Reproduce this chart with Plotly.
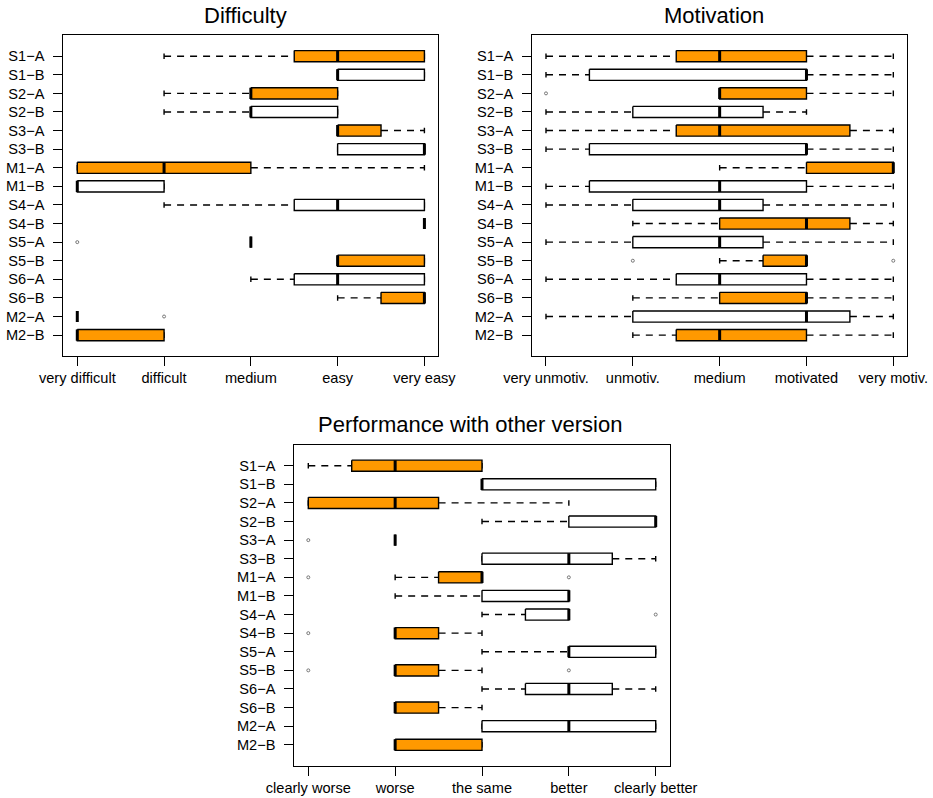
import plotly.graph_objects as go

W, H = 933, 798

rows = ["S1−A", "S1−B", "S2−A", "S2−B", "S3−A", "S3−B", "M1−A", "M1−B",
        "S4−A", "S4−B", "S5−A", "S5−B", "S6−A", "S6−B", "M2−A", "M2−B"]
orange_rows = ["S1−A", "S2−A", "S3−A", "M1−A", "S4−B", "S5−B", "S6−B", "M2−B"]

# ---- Difficulty ----
diff_labels = ["very difficult", "difficult", "medium", "easy", "very easy"]
diff_lw = [2, 4, 2, 2, 4, 4, 1, 1, 2, 5, 3, 4, 3, 4, 1, 1]
diff_q1 = [3.5, 4, 3, 3, 4, 4, 1, 1, 3.5, 5, 3, 4, 3.5, 4.5, 1, 1]
diff_med = [4, 4, 3, 3, 4, 5, 2, 1, 4, 5, 3, 4, 4, 5, 1, 1]
diff_q3 = [5, 5, 4, 4, 4.5, 5, 3, 2, 5, 5, 3, 5, 5, 5, 1, 2]
diff_uw = [5, 5, 4, 4, 5, 5, 5, 2, 5, 5, 3, 5, 5, 5, 1, 2]
diff_out = [[], [], [], [], [], [], [], [], [], [], [1], [], [], [], [2], []]

# ---- Motivation ----
mot_labels = ["very unmotiv.", "unmotiv.", "medium", "motivated", "very motiv."]
mot_lw = [1, 1, 3, 1, 1, 1, 3, 1, 1, 2, 1, 3, 1, 2, 1, 2]
mot_q1 = [2.5, 1.5, 3, 2, 2.5, 1.5, 4, 1.5, 2, 3, 2, 3.5, 2.5, 3, 2, 2.5]
mot_med = [3, 4, 3, 3, 3, 4, 5, 3, 3, 4, 3, 4, 3, 4, 4, 3]
mot_q3 = [4, 4, 4, 3.5, 4.5, 4, 5, 4, 3.5, 4.5, 3.5, 4, 4, 4, 4.5, 4]
mot_uw = [5, 5, 5, 4, 5, 5, 5, 5, 5, 5, 5, 4, 5, 5, 5, 5]
mot_out = [[], [], [1], [], [], [], [], [], [], [], [], [2, 5], [], [], [], []]

# ---- Performance with other version ----
perf_labels = ["clearly worse", "worse", "the same", "better", "clearly better"]
perf_lw = [1, 3, 1, 3, 2, 3, 2, 2, 3, 2, 3, 2, 3, 2, 3, 2]
perf_q1 = [1.5, 3, 1, 4, 2, 3, 2.5, 3, 3.5, 2, 4, 2, 3.5, 2, 3, 2]
perf_med = [2, 3, 2, 5, 2, 4, 3, 4, 4, 2, 4, 2, 4, 2, 4, 2]
perf_q3 = [3, 5, 2.5, 5, 2, 4.5, 3, 4, 4, 2.5, 5, 2.5, 4.5, 2.5, 5, 3]
perf_uw = [3, 5, 4, 5, 2, 5, 3, 4, 4, 3, 5, 3, 5, 3, 5, 3]
perf_out = [[], [], [], [], [1], [], [1, 4], [], [5], [1], [], [1, 4], [], [], [], []]

ORANGE = "#FF9900"
FONT = "Liberation Sans, Arial, Helvetica, sans-serif"
HALF = 0.3      # half box height (category units)
STAPLE = 0.15   # half staple length
LW = 1.4

fig = go.Figure()


def add_panel(k, lw, q1, med, q3, uw, out):
    xa = "x" if k == 1 else f"x{k}"
    ya = "y" if k == 1 else f"y{k}"
    # whiskers
    wx, wy = [], []
    for i in range(len(rows)):
        p = i + 1
        if lw[i] < q1[i]:
            wx += [lw[i], q1[i], None]
            wy += [p, p, None]
        if uw[i] > q3[i]:
            wx += [q3[i], uw[i], None]
            wy += [p, p, None]
    fig.add_trace(go.Scatter(x=wx, y=wy, mode="lines", xaxis=xa, yaxis=ya,
                             line=dict(color="black", width=LW, dash="7px,6px"),
                             hoverinfo="skip", showlegend=False))
    # staples
    sx, sy = [], []
    for i in range(len(rows)):
        p = i + 1
        for v in (lw[i], uw[i]):
            sx += [v, v, None]
            sy += [p - STAPLE, p + STAPLE, None]
    fig.add_trace(go.Scatter(x=sx, y=sy, mode="lines", xaxis=xa, yaxis=ya,
                             line=dict(color="black", width=LW),
                             hoverinfo="skip", showlegend=False))
    # boxes
    for i, r in enumerate(rows):
        p = i + 1
        fill = ORANGE if r in orange_rows else "white"
        fig.add_trace(go.Scatter(
            x=[q1[i], q3[i], q3[i], q1[i], q1[i]],
            y=[p - HALF, p - HALF, p + HALF, p + HALF, p - HALF],
            mode="lines", fill="toself", fillcolor=fill,
            line=dict(color="black", width=LW),
            xaxis=xa, yaxis=ya, hoverinfo="skip", showlegend=False))
    # medians
    mx, my = [], []
    for i in range(len(rows)):
        p = i + 1
        mx += [med[i], med[i], None]
        my += [p - HALF, p + HALF, None]
    fig.add_trace(go.Scatter(x=mx, y=my, mode="lines", xaxis=xa, yaxis=ya,
                             line=dict(color="black", width=3),
                             hoverinfo="skip", showlegend=False))
    # outliers
    ox, oy = [], []
    for i in range(len(rows)):
        for v in out[i]:
            ox.append(v)
            oy.append(i + 1)
    fig.add_trace(go.Scatter(x=ox, y=oy, mode="markers", xaxis=xa, yaxis=ya,
                             marker=dict(symbol="circle-open", size=3,
                                         color="#777777", line=dict(width=1)),
                             hoverinfo="skip", showlegend=False))


add_panel(1, diff_lw, diff_q1, diff_med, diff_q3, diff_uw, diff_out)
add_panel(2, mot_lw, mot_q1, mot_med, mot_q3, mot_uw, mot_out)
add_panel(3, perf_lw, perf_q1, perf_med, perf_q3, perf_uw, perf_out)

# frame pixel positions
frames = {
    1: (63.4, 438.3, 35.0, 356.3),
    2: (532.1, 907.2, 35.0, 356.3),
    3: (294.4, 669.6, 444.5, 766.0),
}
xlabels = {1: diff_labels, 2: mot_labels, 3: perf_labels}

tickfont = dict(family=FONT, size=14.6, color="black")
layout = dict(width=W, height=H, margin=dict(l=0, r=0, t=0, b=0, autoexpand=False),
              plot_bgcolor="white", paper_bgcolor="white", showlegend=False)
for k, (x0, x1, y0, y1) in frames.items():
    xs = "xaxis" if k == 1 else f"xaxis{k}"
    ys = "yaxis" if k == 1 else f"yaxis{k}"
    ya = "y" if k == 1 else f"y{k}"
    xa = "x" if k == 1 else f"x{k}"
    layout[xs] = dict(domain=[x0 / W, x1 / W], anchor=ya, range=[0.84, 5.16],
                      tickvals=[1, 2, 3, 4, 5], ticktext=xlabels[k],
                      ticks="outside", ticklen=9, tickwidth=1, tickcolor="black",
                      showline=True, mirror=True, linecolor="black", linewidth=1,
                      showgrid=False, zeroline=False, tickfont=tickfont,
                      ticklabelstandoff=-1, fixedrange=True, automargin=False)
    layout[ys] = dict(domain=[1 - y1 / H, 1 - y0 / H], anchor=xa,
                      range=[17.14, -0.14],
                      tickvals=list(range(1, len(rows) + 1)), ticktext=rows,
                      ticks="outside", ticklen=9, tickwidth=1, tickcolor="black",
                      showline=True, mirror=True, linecolor="black", linewidth=1,
                      showgrid=False, zeroline=False, tickfont=tickfont,
                      ticklabelstandoff=6, fixedrange=True, automargin=False)

titles = [("Difficulty", 245.5, 15.6), ("Motivation", 714.0, 15.6),
          ("Performance with other version", 470.0, 424.6)]
layout["annotations"] = [
    dict(text=t, x=cx / W, y=1 - cy / H, xref="paper", yref="paper",
         xanchor="center", yanchor="middle", showarrow=False,
         font=dict(family=FONT, size=22, color="black"))
    for t, cx, cy in titles
]
fig.update_layout(**layout)
fig.write_html("out.html")
